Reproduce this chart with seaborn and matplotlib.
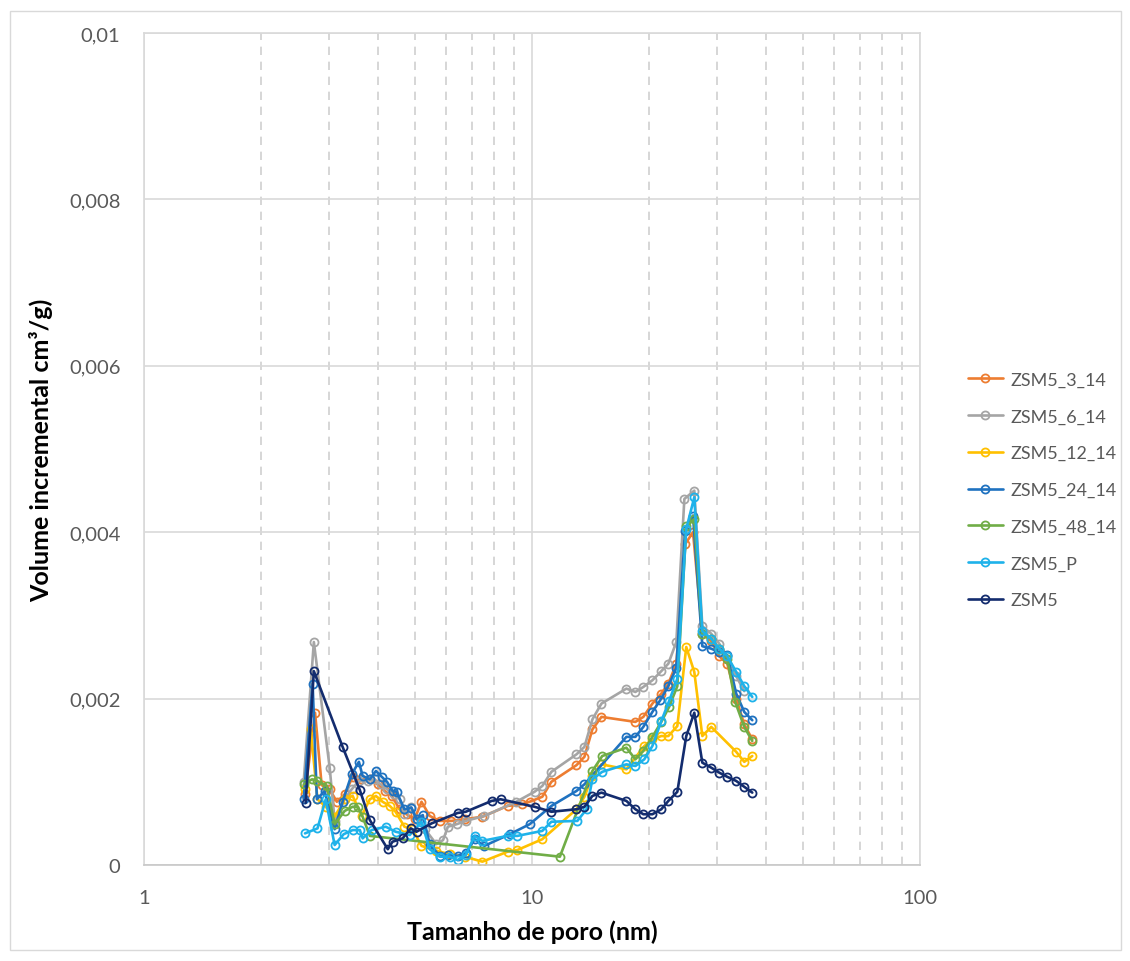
import matplotlib
matplotlib.use("Agg")
import matplotlib.pyplot as plt
import matplotlib.ticker as mticker
from matplotlib.patches import Rectangle
import numpy as np
import pandas as pd
import seaborn as sns

# Pore size distribution (BJH incremental volume) for ZSM5 samples
names = ["ZSM5_3_14", "ZSM5_6_14", "ZSM5_12_14", "ZSM5_24_14",
         "ZSM5_48_14", "ZSM5_P", "ZSM5"]
colors = ["#ED7D31", "#A5A5A5", "#FFC000", "#1F72C0",
          "#70AD47", "#1EB2EA", "#132C6E"]

x_3_14 = [2.60, 2.76, 2.87, 3.01, 3.14, 3.29, 3.45, 3.62, 3.82, 4.00, 4.17, 4.35,
          4.56, 4.75, 4.98, 5.19, 5.45, 5.78, 6.20, 6.71, 7.45, 8.65, 9.40, 9.86,
          10.63, 11.22, 13.02, 13.65, 14.31, 15.10, 18.47, 19.36, 20.43, 21.54,
          22.46, 23.55, 24.84, 26.0, 27.48, 28.97, 30.38, 31.86, 33.6, 35.24, 36.96]
y_3_14 = [0.00085, 0.00183, 0.00096, 0.00091, 0.00076, 0.00085, 0.00106, 0.00103,
          0.00103, 0.00097, 0.00089, 0.00083, 0.00067, 0.00061, 0.00055, 0.00076,
          0.00059, 0.00053, 0.00053, 0.00055, 0.00058, 0.00071, 0.00073, 0.00076,
          0.00082, 0.00100, 0.00120, 0.00130, 0.00163, 0.00178, 0.00172, 0.00178,
          0.00194, 0.00206, 0.00218, 0.00242, 0.00386, 0.00400, 0.00278, 0.00269,
          0.00251, 0.00242, 0.00200, 0.00169, 0.00151]

x_6_14 = [2.58, 2.74, 3.01, 3.10, 3.29, 3.43, 3.58, 3.77, 3.93, 4.07, 4.23, 4.40,
          4.56, 4.69, 4.87, 5.04, 5.30, 5.67, 5.90, 6.07, 6.39, 6.75, 7.54, 9.11,
          10.15, 10.63, 11.22, 13.02, 13.65, 14.31, 15.10, 17.51, 18.47, 19.36,
          20.43, 21.54, 22.46, 23.55, 24.7, 26.2, 27.48, 28.97, 30.38, 31.86,
          33.6, 35.24]
y_6_14 = [0.00100, 0.00268, 0.00117, 0.00053, 0.00079, 0.00091, 0.00101, 0.00101,
          0.00103, 0.00097, 0.00091, 0.00085, 0.00079, 0.00061, 0.00070, 0.00055,
          0.00043, 0.00025, 0.00030, 0.00046, 0.00049, 0.00053, 0.00059, 0.00076,
          0.00088, 0.00095, 0.00112, 0.00133, 0.00142, 0.00175, 0.00194, 0.00212,
          0.00208, 0.00214, 0.00222, 0.00233, 0.00242, 0.00268, 0.00440, 0.00450,
          0.00287, 0.00278, 0.00266, 0.00251, 0.00227, 0.00209]

x_12_14 = [2.60, 2.69, 2.80, 2.94, 3.10, 3.29, 3.45, 3.64, 3.82, 3.96, 4.12, 4.30,
           4.45, 4.69, 4.92, 5.19, 5.67, 6.13, 6.71, 7.45, 8.65, 9.17, 10.63,
           13.02, 13.65, 14.31, 15.10, 17.51, 19.47, 20.43, 21.54, 22.46, 23.69,
           24.98, 26.20, 27.48, 28.97, 33.60, 35.24, 36.96]
y_12_14 = [0.00091, 0.00163, 0.00079, 0.00070, 0.00058, 0.00079, 0.00083, 0.00059,
           0.00079, 0.00083, 0.00076, 0.00071, 0.00064, 0.00046, 0.00043, 0.00023,
           0.00017, 0.00013, 0.00010, 0.00004, 0.00016, 0.00018, 0.00031, 0.00067,
           0.00082, 0.00107, 0.00121, 0.00115, 0.00143, 0.00151, 0.00155, 0.00155,
           0.00167, 0.00262, 0.00232, 0.00155, 0.00166, 0.00136, 0.00124, 0.00131]

x_24_14 = [2.58, 2.72, 2.79, 2.92, 3.10, 3.25, 3.43, 3.58, 3.66, 3.82, 3.96, 4.10,
           4.23, 4.37, 4.48, 4.69, 4.89, 5.04, 5.23, 5.45, 5.78, 6.09, 6.43, 6.75,
           7.11, 7.54, 8.76, 9.86, 11.22, 13.02, 13.65, 17.51, 18.47, 19.36, 20.43,
           21.4, 22.46, 23.55, 24.8, 26.0, 27.48, 28.97, 30.38, 31.86, 33.60,
           35.24, 36.96]
y_24_14 = [0.00079, 0.00218, 0.00079, 0.00089, 0.00043, 0.00076, 0.00109, 0.00124,
           0.00107, 0.00103, 0.00113, 0.00106, 0.00100, 0.00089, 0.00088, 0.00067,
           0.00069, 0.00055, 0.00060, 0.00025, 0.00011, 0.00012, 0.00011, 0.00014,
           0.00031, 0.00023, 0.00037, 0.00049, 0.00071, 0.00089, 0.00097, 0.00154,
           0.00154, 0.00166, 0.00184, 0.00198, 0.00215, 0.00237, 0.00401, 0.00420,
           0.00263, 0.00260, 0.00256, 0.00252, 0.00206, 0.00184, 0.00174]

x_48_14 = [2.58, 2.71, 2.80, 2.96, 3.10, 3.29, 3.45, 3.56, 3.66, 3.82, 11.8, 14.31,
           15.17, 17.51, 18.47, 19.36, 20.43, 21.54, 22.56, 23.69, 24.98, 26.20,
           27.48, 28.97, 30.38, 31.86, 33.4, 35.24, 36.96]
y_48_14 = [0.00097, 0.00103, 0.00101, 0.00095, 0.00049, 0.00065, 0.00070, 0.00070,
           0.00058, 0.00035, 0.00010, 0.00113, 0.00131, 0.00141, 0.00127, 0.00137,
           0.00154, 0.00172, 0.00190, 0.00215, 0.00407, 0.00416, 0.00278, 0.00272,
           0.00260, 0.00248, 0.00196, 0.00166, 0.00149]

x_p = [2.60, 2.80, 2.94, 3.10, 3.27, 3.45, 3.60, 3.66, 3.86, 4.20, 4.45, 4.84,
       5.19, 5.45, 5.78, 6.13, 6.43, 6.75, 7.11, 7.45, 8.65, 9.17, 10.63, 11.22,
       13.09, 13.82, 14.31, 15.17, 17.51, 18.47, 19.47, 20.43, 21.54, 22.56,
       23.69, 24.98, 26.20, 27.48, 28.97, 30.38, 31.86, 33.60, 35.24, 36.96]
y_p = [0.00038, 0.00044, 0.00079, 0.00024, 0.00037, 0.00042, 0.00042, 0.00032,
       0.00042, 0.00046, 0.00040, 0.00036, 0.00052, 0.00019, 0.00010, 0.00010,
       0.00006, 0.00012, 0.00035, 0.00029, 0.00035, 0.00035, 0.00041, 0.00052,
       0.00053, 0.00067, 0.00103, 0.00112, 0.00121, 0.00119, 0.00127, 0.00143,
       0.00173, 0.00197, 0.00224, 0.00404, 0.00442, 0.00281, 0.00272, 0.00260,
       0.00251, 0.00232, 0.00215, 0.00202]

x_zsm5 = [2.61, 2.74, 3.25, 3.60, 3.82, 4.25, 4.37, 4.64, 4.87, 5.04, 5.51, 6.43,
          6.75, 7.87, 8.30, 10.15, 11.22, 13.02, 13.65, 14.31, 15.10, 17.51, 18.47,
          19.36, 20.43, 21.54, 22.46, 23.69, 24.98, 26.20, 27.48, 28.97, 30.38,
          31.86, 33.60, 35.24, 36.96]
y_zsm5 = [0.000745, 0.00233, 0.00142, 0.00090, 0.00054, 0.00019, 0.00028, 0.00032,
          0.00044, 0.00040, 0.00050, 0.000625, 0.00064, 0.00077, 0.00079, 0.00070,
          0.00064, 0.00067, 0.00070, 0.00083, 0.00087, 0.00077, 0.00067, 0.00061,
          0.00061, 0.00067, 0.00077, 0.00088, 0.00155, 0.00183, 0.00123, 0.00117,
          0.00111, 0.00106, 0.00101, 0.00094, 0.00087]

x_series = [x_3_14, x_6_14, x_12_14, x_24_14, x_48_14, x_p, x_zsm5]
y_series = [y_3_14, y_6_14, y_12_14, y_24_14, y_48_14, y_p, y_zsm5]

y_ticks = [0, 0.002, 0.004, 0.006, 0.008, 0.01]
y_tick_labels = ["0", "0,002", "0,004", "0,006", "0,008", "0,01"]
x_ticks = [1, 10, 100]
x_tick_labels = ["1", "10", "100"]

frames = [pd.DataFrame({"diam": xs, "vol": ys, "amostra": n})
          for n, xs, ys in zip(names, x_series, y_series)]
df = pd.concat(frames, ignore_index=True)

sns.set_theme(style="white")
plt.rcParams["font.family"] = ["Lato", "DejaVu Sans"]

W, H = 1130, 962
fig = plt.figure(figsize=(W / 100, H / 100), dpi=100)
ax = fig.add_axes([144 / W, 1 - 866 / H, (920 - 144) / W, (866 - 34) / H])

for name, col in zip(names, colors):
    sub = df[df["amostra"] == name]
    sns.lineplot(data=sub, x="diam", y="vol", ax=ax, color=col, label=name,
                 estimator=None, sort=False, linewidth=1.9,
                 marker="o", markersize=5.8, markerfacecolor="none",
                 markeredgecolor=col, markeredgewidth=1.3)

ax.set_xscale("log")
ax.set_xlim(1, 100)
ax.set_ylim(0, 0.01)
ax.set_xticks(x_ticks)
ax.set_xticklabels(x_tick_labels)
ax.xaxis.set_minor_locator(mticker.LogLocator(base=10, subs=np.arange(2, 10)))
ax.xaxis.set_minor_formatter(mticker.NullFormatter())
ax.set_yticks(y_ticks)
ax.set_yticklabels(y_tick_labels)

ax.grid(which="major", axis="both", color="#D9D9D9", linewidth=1.2, linestyle="-")
ax.grid(which="minor", axis="x", color="#CFCFCF", linewidth=1.2,
        linestyle=(0, (5, 4)))
ax.set_axisbelow(True)
ax.tick_params(axis="both", which="both", length=0, labelsize=14.5,
               labelcolor="#595959")
ax.tick_params(axis="x", pad=17)
ax.tick_params(axis="y", pad=17)
for s in ax.spines.values():
    s.set_color("#D9D9D9")
    s.set_linewidth(1.2)
ax.spines["bottom"].set_color("#C8C8C8")

ax.set_xlabel("Tamanho de poro (nm)", fontsize=18, fontweight="bold",
              color="black", labelpad=10)
ax.set_ylabel("Volume incremental cm³/g)", fontsize=18, fontweight="bold",
              color="black", labelpad=11)

leg = ax.legend(loc="center left", bbox_to_anchor=(952 / W, 1 - 491 / H),
                bbox_transform=fig.transFigure, frameon=False, fontsize=13,
                handlelength=1.9, handletextpad=0.45, labelspacing=1.15)
for t in leg.get_texts():
    t.set_color("#595959")

fig.patches.append(Rectangle((10 / W, 1 - 951 / H), (1121 - 10) / W, (951 - 12) / H,
                             transform=fig.transFigure, fill=False,
                             edgecolor="#D9D9D9", linewidth=1.0))

fig.savefig("out.png", dpi=100, facecolor="white")
